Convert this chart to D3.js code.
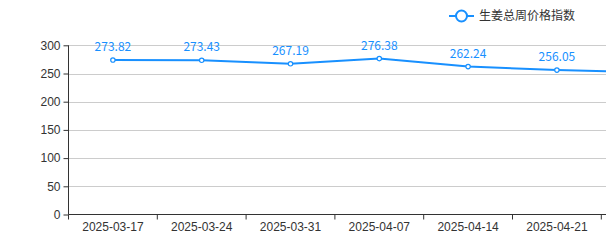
<!DOCTYPE html>
<html>
<head>
<meta charset="utf-8">
<script src="https://cdn.jsdelivr.net/npm/d3@7/dist/d3.min.js"></script>
<style>
  html, body { margin: 0; padding: 0; background: #fff; overflow: hidden; }
  svg { display: block; font-family: "Noto Sans CJK SC", "Noto Sans", sans-serif; }
</style>
</head>
<body>
<div id="chart"></div>
<script>
// categories and values (last week is cut off by the right edge)
var weeks = ["2025-03-17", "2025-03-24", "2025-03-31", "2025-04-07", "2025-04-14", "2025-04-21", "2025-04-28"];
var prices = [273.82, 273.43, 267.19, 276.38, 262.24, 256.05, 252.3];
var showLabel = [true, true, true, true, true, true, false];
var yTicks = [0, 50, 100, 150, 200, 250, 300];
var seriesName = "生姜总周价格指数";

var width = 606;
var height = 242;
var left = 68.5;
var bandW = 88.8;
var plotTop = 45.3;
var plotBottom = 214.5;
var blue = "#1890ff";

var svg = d3.select("#chart").append("svg")
    .attr("width", width)
    .attr("height", height);

var x = d3.scaleBand()
    .domain(weeks)
    .range([left, left + bandW * weeks.length]);

var y = d3.scaleLinear()
    .domain([0, 300])
    .range([plotBottom, plotTop]);

// grid lines
svg.append("g")
    .selectAll("line")
    .data(yTicks.slice(1))
    .enter().append("line")
    .attr("x1", left)
    .attr("x2", width)
    .attr("y1", function(d) { return Math.round(y(d)) + 0.5; })
    .attr("y2", function(d) { return Math.round(y(d)) + 0.5; })
    .attr("stroke", "#ccc")
    .attr("stroke-width", 1);

// y axis
var yAxis = d3.axisLeft(y).tickValues(yTicks).tickSize(5).tickPadding(3);
var gy = svg.append("g")
    .attr("transform", "translate(" + left + ",0)")
    .call(yAxis);
gy.select(".domain").attr("stroke", "#333").attr("d", "M0," + plotTop + "V" + plotBottom);
gy.selectAll(".tick line").attr("stroke", "#333");
gy.selectAll("text").attr("fill", "#333").style("font-size", "12px");

// x axis
var xAxis = d3.axisBottom(x).tickSize(0).tickPadding(8);
var gx = svg.append("g")
    .attr("transform", "translate(0," + plotBottom + ")")
    .call(xAxis);
gx.select(".domain").attr("stroke", "#333").attr("d", "M" + left + ",0H" + (left + bandW * weeks.length));
gx.selectAll("text").attr("fill", "#333").style("font-size", "12px");
// the last week sits past the right edge, like the reference
gx.selectAll(".tick").filter(function(d) { return x(d) + x.bandwidth() / 2 > width; }).remove();
gx.selectAll(".bound")
    .data(d3.range(weeks.length + 1))
    .enter().append("line")
    .attr("x1", function(i) { return left + i * bandW; })
    .attr("x2", function(i) { return left + i * bandW; })
    .attr("y1", 0)
    .attr("y2", 5)
    .attr("stroke", "#333");

// line
var line = d3.line()
    .x(function(d, i) { return x(weeks[i]) + x.bandwidth() / 2; })
    .y(function(d) { return y(d); });

svg.append("path")
    .attr("d", line(prices))
    .attr("fill", "none")
    .attr("stroke", blue)
    .attr("stroke-width", 2);

svg.selectAll(".dot")
    .data(prices)
    .enter().append("circle")
    .attr("class", "dot")
    .attr("cx", function(d, i) { return x(weeks[i]) + x.bandwidth() / 2; })
    .attr("cy", function(d) { return y(d); })
    .attr("r", 2.2)
    .attr("fill", "#fff")
    .attr("stroke", blue)
    .attr("stroke-width", 1.2);

svg.selectAll(".lbl")
    .data(prices.filter(function(d, i) { return showLabel[i]; }))
    .enter().append("text")
    .attr("x", function(d, i) { return x(weeks[i]) + x.bandwidth() / 2; })
    .attr("y", function(d) { return y(d) - 9; })
    .attr("text-anchor", "middle")
    .attr("fill", blue)
    .style("font-size", "12px")
    .text(function(d) { return d.toFixed(2); });

// legend
var lg = svg.append("g").attr("transform", "translate(449,16)");
lg.append("line").attr("x1", 0).attr("x2", 25).attr("y1", 0).attr("y2", 0)
    .attr("stroke", blue).attr("stroke-width", 2);
lg.append("circle").attr("cx", 12.5).attr("cy", 0).attr("r", 5.5)
    .attr("fill", "#fff").attr("stroke", blue).attr("stroke-width", 2);
lg.append("text").attr("x", 30).attr("y", 0).attr("dy", "0.35em")
    .attr("fill", "#333").style("font-size", "12px").text(seriesName);
</script>
</body>
</html>
